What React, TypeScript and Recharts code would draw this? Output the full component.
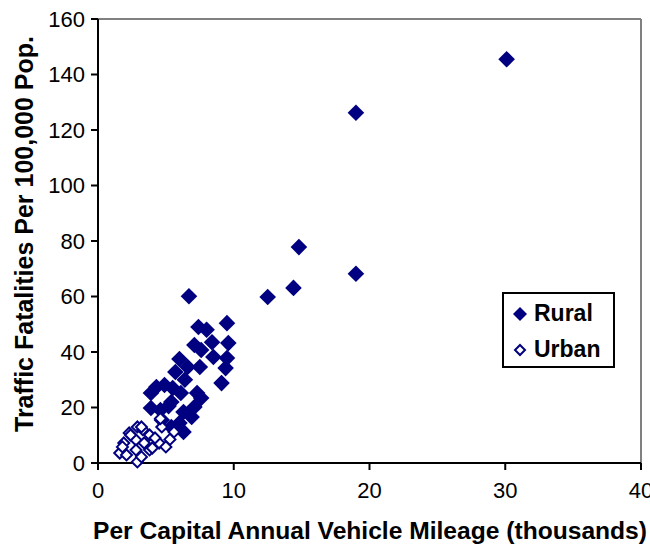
import React from "react";
import { ScatterChart, Scatter, XAxis, YAxis, ReferenceLine, Label } from "recharts";

const ruralX = [30.1, 19.0, 14.8, 19.0, 12.5, 14.4, 6.7, 7.4, 8.0, 9.5, 8.4, 9.6, 7.1, 7.6, 8.5, 9.5, 6.0, 9.4, 7.5, 6.6, 5.7, 9.1, 4.3, 4.9, 3.9, 5.5, 6.1, 7.3, 7.6, 7.1, 3.9, 4.6, 5.4, 6.9, 6.3, 4.7, 6.0, 6.3, 5.4, 6.4, 5.2];
const ruralY = [145.5, 126.2, 77.8, 68.2, 59.8, 63.1, 60.1, 49.0, 48.0, 50.4, 43.5, 43.2, 42.5, 40.7, 38.2, 37.8, 37.5, 34.2, 34.6, 34.6, 32.8, 28.8, 27.4, 28.1, 25.2, 27.0, 25.2, 25.2, 23.4, 20.2, 19.8, 19.1, 22.0, 16.6, 18.4, 15.5, 14.4, 11.2, 13.0, 30.0, 20.5];
const urbanX = [2.9, 2.3, 3.8, 4.7, 5.6, 2.8, 1.9, 3.4, 4.5, 1.6, 2.8, 3.8, 2.1, 2.9, 5.0, 4.2, 3.3, 5.3, 4.6, 3.2, 2.4, 4.0, 3.2, 1.8];
const urbanY = [13.0, 10.8, 10.1, 13.0, 11.2, 8.3, 7.2, 7.2, 7.2, 3.6, 4.7, 4.7, 2.9, 0.4, 5.8, 9.0, 12.0, 8.5, 16.0, 13.0, 10.1, 5.4, 2.2, 5.8];
const xTicks = [0, 10, 20, 30, 40];
const yTicks = [0, 20, 40, 60, 80, 100, 120, 140, 160];

const rural = ruralX.map((x, i) => ({ x, y: ruralY[i] }));
const urban = urbanX.map((x, i) => ({ x, y: urbanY[i] }));

const NAVY = "#000080";
const FONT = "'Liberation Sans', Arial, sans-serif";

const FilledDiamond = (props: any) => {
  const { cx, cy } = props;
  const r = 8.3;
  return <polygon points={`${cx},${cy - r} ${cx + r},${cy} ${cx},${cy + r} ${cx - r},${cy}`} fill={NAVY} />;
};
const HollowDiamond = (props: any) => {
  const { cx, cy } = props;
  const r = 5.5;
  return <polygon points={`${cx},${cy - r} ${cx + r},${cy} ${cx},${cy + r} ${cx - r},${cy}`} fill="#fff" stroke={NAVY} strokeWidth={2} />;
};

export default function App() {
  return (
    <div style={{ position: "absolute", left: 0, top: 0, width: 650, height: 550 }}>
      <ScatterChart width={650} height={550} margin={{ top: 19, right: 9, left: 0, bottom: 0 }}>
        <XAxis
          type="number"
          dataKey="x"
          domain={[0, 40]}
          ticks={xTicks}
          height={87}
          axisLine={{ stroke: "#000", strokeWidth: 2 }}
          tickLine={{ stroke: "#000", strokeWidth: 2 }}
          tickSize={7}
          tick={{ fill: "#000", fontSize: 22, fontFamily: FONT }}
          tickMargin={12}
          interval={0}
        >
          <Label
            content={() => (
              <text x={370} y={539} textAnchor="middle" fontFamily={FONT} fontWeight="bold" fontSize={24.6} fill="#000">
                Per Capital Annual Vehicle Mileage (thousands)
              </text>
            )}
          />
        </XAxis>
        <YAxis
          type="number"
          dataKey="y"
          domain={[0, 160]}
          ticks={yTicks}
          width={98}
          axisLine={{ stroke: "#000", strokeWidth: 2 }}
          tickLine={{ stroke: "#000", strokeWidth: 2 }}
          tickSize={7}
          tick={{ fill: "#000", fontSize: 22, fontFamily: FONT }}
          tickMargin={6}
          interval={0}
        >
          <Label
            content={() => (
              <text x={24} y={234} textAnchor="middle" dominantBaseline="central" transform="rotate(-90 24 234)" fontFamily={FONT} fontWeight="bold" fontSize={25} fill="#000">
                Traffic Fatalities Per 100,000 Pop.
              </text>
            )}
          />
        </YAxis>
        <ReferenceLine y={160} stroke="#808080" strokeWidth={2} />
        <ReferenceLine x={40} stroke="#808080" strokeWidth={2} />
        <Scatter name="Rural" data={rural} shape={FilledDiamond} isAnimationActive={false} />
        <Scatter name="Urban" data={urban} shape={HollowDiamond} isAnimationActive={false} />
      </ScatterChart>
      <div
        style={{
          position: "absolute",
          left: 502,
          top: 292,
          width: 109,
          height: 72,
          border: "2px solid #000",
          background: "#fff",
          fontFamily: FONT,
          fontWeight: "bold",
          fontSize: 23,
          color: "#000",
        }}
      >
        <div style={{ position: "absolute", left: 8, top: 6, display: "flex", alignItems: "center" }}>
          <svg width={16} height={16}>
            <polygon points="8,1 15,8 8,15 1,8" fill={NAVY} />
          </svg>
          <span style={{ marginLeft: 6 }}>Rural</span>
        </div>
        <div style={{ position: "absolute", left: 8, top: 42, display: "flex", alignItems: "center" }}>
          <svg width={16} height={16}>
            <polygon points="8,3 13,8 8,13 3,8" fill="#fff" stroke={NAVY} strokeWidth={2} />
          </svg>
          <span style={{ marginLeft: 6 }}>Urban</span>
        </div>
      </div>
    </div>
  );
}
